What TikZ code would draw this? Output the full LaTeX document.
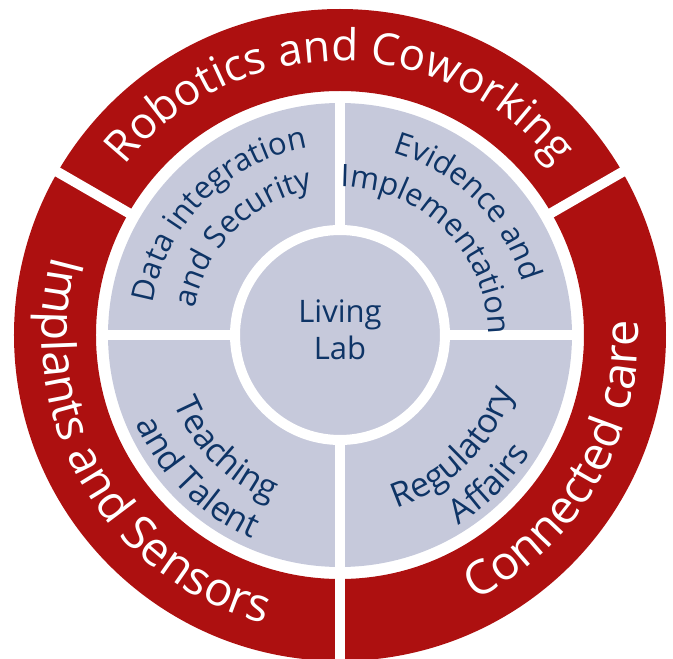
\documentclass[tikz,border=0pt]{standalone}
\usepackage{fontspec}
\setmainfont{Open Sans}
\usetikzlibrary{decorations.text}
\definecolor{ringred}{HTML}{AD1010}
\definecolor{fieldgrey}{HTML}{C6C9DB}
\definecolor{labelblue}{HTML}{0E3466}
\newcommand\ringfont{\fontsize{47}{47}\selectfont}
\newcommand\topfont{\fontsize{44}{44}\selectfont}
\newcommand\fieldfont{\fontsize{31}{37}\selectfont}
\newcommand\lowfont{\fontsize{34}{34}\selectfont}
\tikzset{
  ringtext/.style={decorate, decoration={text along path, text align=center,
    text color=white, text={|\ringfont|#1}}},
  toptext/.style={decorate, decoration={text along path, text align=center,
    text color=white, text={|\topfont|#1}}},
  fieldtext/.style={decorate, decoration={text along path, text align=center,
    text color=labelblue, text={|\fieldfont|#1}}},
  lowtext/.style={decorate, decoration={text along path, text align=center,
    text color=labelblue, text={|\lowfont|#1}}},
}

\begin{document}
\begin{tikzpicture}
  \useasboundingbox (-340pt,-324pt) rectangle (333pt,335pt);
  \fill[ringred, even odd rule] (0,0) circle (326pt) (0,0) circle (244pt);
  \fill[fieldgrey] (0,0) circle (232pt);
  \foreach \a in {30,150,270}
    \draw[white, line width=10pt] (\a:238pt) -- (\a:340pt);
  \foreach \a in {0,90,180,270}
    \draw[white, line width=10pt] (0,0) -- (\a:236pt);
  \node[circle, fill=fieldgrey, draw=white, line width=10pt, minimum size=210pt] (hub) {};
  \node[text=labelblue, font=\fieldfont, align=center, yshift=5pt] (lab) at (hub) {Living\\Lab};
  % outer ring
  \path[toptext=Robotics and Coworking] (150:274pt) arc[start angle=150, end angle=30, radius=274pt];
  \path[ringtext=Implants and Sensors] (150:298pt) arc[start angle=150, end angle=270, radius=298pt];
  \path[ringtext=Connected care] (270:298pt) arc[start angle=270, end angle=390, radius=298pt];
  % fields
  \path[fieldtext=Data integration] (180:190pt) arc[start angle=180, end angle=90, radius=190pt];
  \path[fieldtext=and Security] (180:148pt) arc[start angle=180, end angle=90, radius=148pt];
  \path[fieldtext=Evidence and] (90:190pt) arc[start angle=90, end angle=0, radius=190pt];
  \path[fieldtext=Implementation] (90:148pt) arc[start angle=90, end angle=0, radius=148pt];
  \path[lowtext=Teaching] (180:180pt) arc[start angle=180, end angle=270, radius=180pt];
  \path[lowtext=and Talent] (180:222pt) arc[start angle=180, end angle=270, radius=222pt];
  \path[lowtext=Regulatory] (270:182pt) arc[start angle=270, end angle=360, radius=182pt];
  \path[lowtext=Affairs] (270:224pt) arc[start angle=270, end angle=360, radius=224pt];
\end{tikzpicture}
\end{document}
